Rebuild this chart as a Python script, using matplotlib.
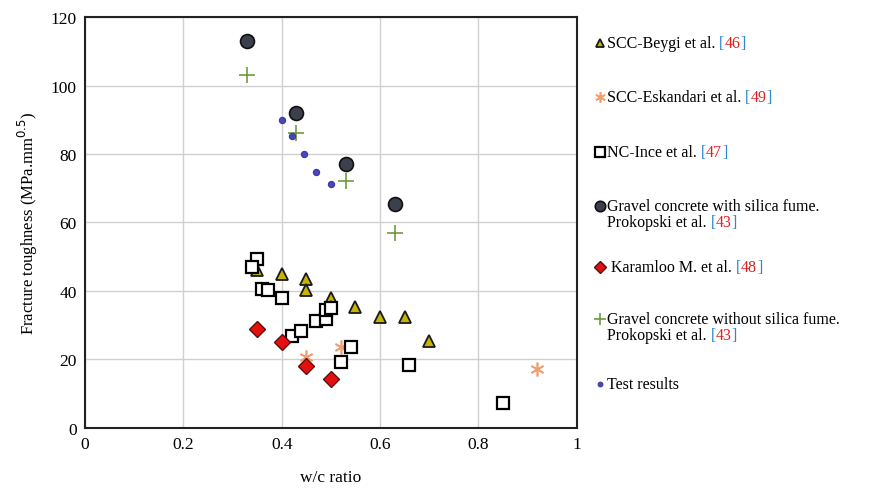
import matplotlib
matplotlib.use("Agg")
import matplotlib.pyplot as plt
from matplotlib.lines import Line2D

plt.rcParams['font.family'] = ['Liberation Serif', 'DejaVu Serif']

# data
beygi_x = [0.35, 0.40, 0.45, 0.45, 0.50, 0.50, 0.55, 0.60, 0.65, 0.70]
beygi_y = [46.0, 45.0, 43.5, 40.3, 37.9, 35.2, 35.2, 32.3, 32.3, 25.5]

eskandari_x = [0.45, 0.52, 0.92]
eskandari_y = [20.6, 23.6, 17.2]

ince_x = [0.35, 0.34, 0.36, 0.373, 0.40, 0.42, 0.44, 0.47, 0.49, 0.49, 0.50, 0.52, 0.54, 0.66, 0.85]
ince_y = [49.3, 47.1, 40.6, 40.3, 37.9, 26.7, 28.2, 31.3, 31.8, 34.3, 35.0, 19.2, 23.6, 18.4, 7.3]

gravel_sf_x = [0.33, 0.43, 0.53, 0.63]
gravel_sf_y = [113.0, 92.0, 77.0, 65.5]

karamloo_x = [0.35, 0.40, 0.45, 0.50]
karamloo_y = [28.9, 25.0, 18.0, 14.3]

gravel_x = [0.33, 0.43, 0.53, 0.63]
gravel_y = [103.0, 86.0, 72.0, 57.0]

test_x = [0.40, 0.42, 0.445, 0.47, 0.50]
test_y = [90.0, 85.3, 80.0, 74.7, 71.2]

fig = plt.figure(figsize=(8.87, 4.89), dpi=100)
ax = fig.add_axes([0.096, 0.123, 0.554, 0.84])

tri_style = dict(marker='^', color='none', markerfacecolor='#c8b400', markeredgecolor='#1a1a1a', markersize=8, markeredgewidth=1.3)
esk_style = dict(marker=(6, 2, 0), color='none', markeredgecolor='#f0a070', markersize=10, markeredgewidth=1.2)
sq_style = dict(marker='s', color='none', markerfacecolor='white', markeredgecolor='black', markersize=9, markeredgewidth=1.6)
sf_style = dict(marker='o', color='none', markerfacecolor='#3c3f4c', markeredgecolor='#111111', markersize=10, markeredgewidth=1.2)
kar_style = dict(marker='D', color='none', markerfacecolor='#e41010', markeredgecolor='#5a1010', markersize=8, markeredgewidth=1.0)
gr_style = dict(marker='+', color='none', markeredgecolor='#6f9a3c', markersize=11, markeredgewidth=1.2)
test_style = dict(marker='o', color='none', markerfacecolor='#4a48b8', markeredgecolor='#3a38a8', markersize=4.5, markeredgewidth=0.8)

ax.plot(beygi_x, beygi_y, linestyle='none', **tri_style)
ax.plot(eskandari_x, eskandari_y, linestyle='none', **esk_style)
ax.plot(ince_x, ince_y, linestyle='none', **sq_style)
ax.plot(gravel_sf_x, gravel_sf_y, linestyle='none', **sf_style)
ax.plot(karamloo_x, karamloo_y, linestyle='none', **kar_style)
ax.plot(gravel_x, gravel_y, linestyle='none', **gr_style)
ax.plot(test_x, test_y, linestyle='none', **test_style)

ax.set_xlim(0, 1)
ax.set_ylim(0, 120)
ax.set_xticks([0, 0.2, 0.4, 0.6, 0.8, 1])
ax.set_xticklabels(['0', '0.2', '0.4', '0.6', '0.8', '1'])
ax.set_yticks(range(0, 121, 20))
ax.grid(True, color='#d0d0d0', linewidth=1.0)
ax.set_axisbelow(True)
ax.tick_params(length=0, labelsize=12.5, pad=6)
for s in ax.spines.values():
    s.set_linewidth(1.5)
    s.set_color('#222222')
ax.set_xlabel('w/c ratio', fontsize=12.5, labelpad=12)
ax.set_ylabel('Fracture toughness (MPa.mm$^{0.5}$)', fontsize=12, labelpad=8)

# legend built by hand so the reference numbers can be coloured
entries = [
    (tri_style, ['SCC-Beygi et al. '], '46', 44),
    (esk_style, ['SCC-Eskandari et al. '], '49', 98),
    (sq_style, ['NC-Ince et al. '], '47', 153),
    (sf_style, ['Gravel concrete with silica fume.', 'Prokopski et al. '], '43', 207),
    (kar_style, [' Karamloo M. et al. '], '48', 268),
    (gr_style, ['Gravel concrete without silica fume.', 'Prokopski et al. '], '43', 320),
    (test_style, ['Test results'], None, 385),
]
W, H = 887.0, 489.0
mx = 600
tx = 607
for style, lines, ref, py in entries:
    st = dict(style)
    st['markersize'] = st['markersize'] * 0.75
    fig.add_artist(Line2D([mx / W], [1 - py / H], linestyle='none', transform=fig.transFigure, **st))
    for i, line in enumerate(lines):
        yy = 1 - (py + i * 16) / H
        t = fig.text(tx / W, yy, line, fontsize=11.5, va='baseline', ha='left')
        t.set_y(yy - 4 / H)
        if ref is not None and i == len(lines) - 1:
            a = ax.annotate('[', xy=(1, 0), xycoords=t, va='bottom', ha='left', fontsize=11.5, color='#2a8ad0', annotation_clip=False)
            b = ax.annotate(ref, xy=(1, 0), xycoords=a, va='bottom', ha='left', fontsize=11.5, color='#e02020', annotation_clip=False)
            ax.annotate(']', xy=(1, 0), xycoords=b, va='bottom', ha='left', fontsize=11.5, color='#2a8ad0', annotation_clip=False)

fig.savefig('out.png', dpi=100)
